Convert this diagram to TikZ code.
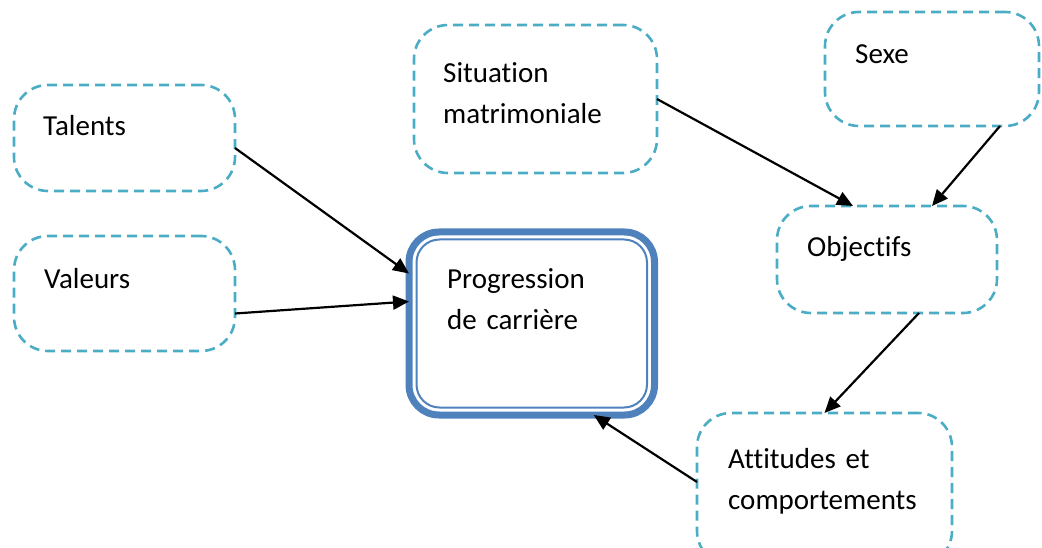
\documentclass[tikz,border=0pt]{standalone}
\usepackage{fontspec}
\setmainfont{Carlito}[Ligatures=NoCommon]
\usetikzlibrary{arrows.meta}
\definecolor{boxcyan}{HTML}{4BACC6}
\definecolor{boxblue}{HTML}{4F81BD}
\tikzset{
  dbox/.style={draw=boxcyan, line width=2.6pt, dash pattern=on 10pt off 6pt,
    rounded corners=34pt, inner sep=0pt, outer sep=0pt},
  pbox/.style={draw=boxblue, line width=7pt, rounded corners=30pt,
    inner sep=0pt, outer sep=0pt},
  txt/.style={anchor=base west, inner sep=0pt, text width=240pt, align=left,
    font=\fontsize{29}{41}\selectfont},
  arr/.style={-{Triangle[length=16pt,width=14pt]}, line width=2.2pt}
}
\begin{document}
\begin{tikzpicture}[x=1pt, y=-1pt]
\clip (0,0) rectangle (1042,548);
% boxes
\node[dbox, minimum width=221pt, minimum height=106pt] (talents) at (124.5,138) {};
\node[dbox, minimum width=221pt, minimum height=115pt] (valeurs) at (124.5,293.5) {};
\node[dbox, minimum width=243pt, minimum height=148pt] (situation) at (535.5,99) {};
\node[dbox, minimum width=214pt, minimum height=114pt] (sexe) at (932,69) {};
\node[dbox, minimum width=220pt, minimum height=107pt] (objectifs) at (887,259.5) {};
\node[dbox, minimum width=255pt, minimum height=152pt] (attitudes) at (824.5,489) {};
\node[pbox, minimum width=245.5pt, minimum height=183pt] (prog) at (531.75,323.5) {};
\draw[boxblue, line width=2pt, rounded corners=23pt]
  ([xshift=7.5pt,yshift=-7.5pt]prog.north west) rectangle ([xshift=-7.5pt,yshift=7.5pt]prog.south east);
% texts
\node[txt] (talentsTxt) at (43,136) {Talents};
\node[txt] (valeursTxt) at (44,289) {Valeurs};
\node[txt] (situationTxt) at (443,83) {Situation\\matrimoniale};
\node[txt] (sexeTxt) at (855,64) {Sexe};
\node[txt] (objectifsTxt) at (807,257) {Objectifs};
\node[txt] (progTxt) at (447,288) {Progression\\de carrière};
\node[txt] (attitudesTxt) at (728,468) {Attitudes et\\comportements};
% arrows
\draw[arr] ([yshift=-10pt]talents.east) -- ([yshift=50pt]prog.west);
\draw[arr] ([yshift=-20pt]valeurs.east) -- ([yshift=22pt]prog.west);
\draw[arr] (situation.east) -- ([xshift=-34pt]objectifs.north);
\draw[arr] ([xshift=68pt]sexe.south) -- ([xshift=45pt]objectifs.north);
\draw[arr] ([xshift=32pt]objectifs.south) -- (attitudes.north);
\draw[arr] ([yshift=7pt]attitudes.west) -- ([xshift=62pt]prog.south);
\end{tikzpicture}
\end{document}
